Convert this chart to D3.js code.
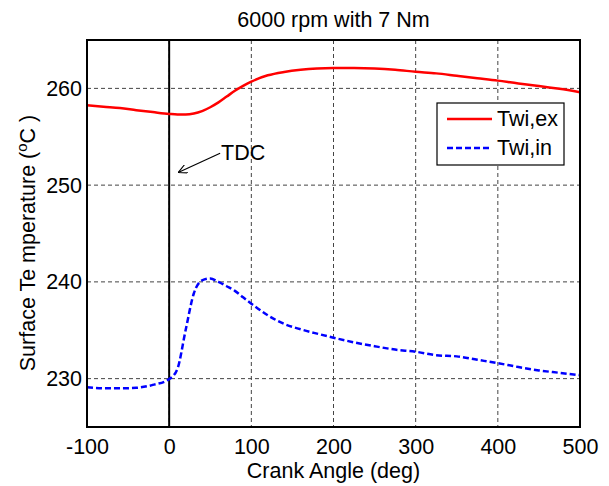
<!DOCTYPE html>
<html>
<head>
<meta charset="utf-8">
<script src="https://cdn.jsdelivr.net/npm/d3@7"></script>
<style>
	body { margin: 0; background: #fff; }
	text { font-family: "Liberation Sans", Arial, Helvetica, sans-serif; fill: #000; }
</style>
</head>
<body>
<div id="chart"></div>
<script>

// crank angle samples (deg)
var crankAngle = [-100, -80, -60, -40, -20, 0, 10, 20, 30, 40, 50, 60, 70, 80, 90, 100,
	120, 140, 160, 180, 200, 225, 250, 275, 300, 325, 350, 375, 400, 425, 450, 475, 500];

// surface temperature, exhaust side
var twiEx = [258.25, 258.1, 257.97, 257.75, 257.55, 257.36, 257.3, 257.3, 257.4, 257.65, 258.05, 258.55, 259.15, 259.75, 260.25, 260.7,
	261.35, 261.7, 261.92, 262.05, 262.1, 262.1, 262.05, 261.92, 261.72, 261.55, 261.3, 261.05, 260.8, 260.5, 260.25, 259.95, 259.6];

// surface temperature, intake side
var twiIn = [229.1, 229.0, 229.0, 229.05, 229.35, 229.95, 231.0, 235.0, 238.8, 240.15, 240.35, 240.0, 239.55, 239.07, 238.4, 237.75,
	236.55, 235.65, 235.1, 234.65, 234.23, 233.75, 233.35, 233.0, 232.78, 232.42, 232.3, 231.95, 231.6, 231.2, 230.85, 230.6, 230.35];

var xTicks = [-100, 0, 100, 200, 300, 400, 500];
var yTicks = [230, 240, 250, 260];
var seriesNames = ["Twi,ex", "Twi,in"];

var fontSize = "21.5px";

var margin = {top: 40, right: 29, bottom: 59, left: 87},
	width = 609 - margin.left - margin.right,
	height = 486 - margin.top - margin.bottom;

var x = d3.scaleLinear().domain([-100, 500]).range([0, width]);
var y = d3.scaleLinear().domain([225, 265]).range([height, 0]);

var svg = d3.select("#chart").append("svg")
	.attr("width", 609)
	.attr("height", 486);

var g = svg.append("g")
	.attr("transform", "translate(" + margin.left + "," + margin.top + ")");

// grid
g.selectAll(".gx").data(xTicks).enter().append("line")
	.attr("x1", function(d) { return x(d); })
	.attr("x2", function(d) { return x(d); })
	.attr("y1", 0).attr("y2", height)
	.attr("stroke", "#444").attr("stroke-width", 1)
	.attr("stroke-dasharray", "4,3");

g.selectAll(".gy").data(yTicks).enter().append("line")
	.attr("x1", 0).attr("x2", width)
	.attr("y1", function(d) { return y(d); })
	.attr("y2", function(d) { return y(d); })
	.attr("stroke", "#444").attr("stroke-width", 1)
	.attr("stroke-dasharray", "4,3");

// TDC line
g.append("line")
	.attr("x1", x(0)).attr("x2", x(0))
	.attr("y1", 0).attr("y2", height)
	.attr("stroke", "#000").attr("stroke-width", 2);

var data = crankAngle.map(function(a, i) { return [a, twiEx[i], twiIn[i]]; });

var lineEx = d3.line()
	.curve(d3.curveMonotoneX)
	.x(function(d) { return x(d[0]); })
	.y(function(d) { return y(d[1]); });

var lineIn = d3.line()
	.curve(d3.curveMonotoneX)
	.x(function(d) { return x(d[0]); })
	.y(function(d) { return y(d[2]); });

g.append("path")
	.datum(data)
	.attr("fill", "none")
	.attr("stroke", "#ff0000")
	.attr("stroke-width", 2.5)
	.attr("d", lineEx);

g.append("path")
	.datum(data)
	.attr("fill", "none")
	.attr("stroke", "#0000ff")
	.attr("stroke-width", 2.5)
	.attr("stroke-dasharray", "6,3")
	.attr("d", lineIn);

// axes
var xAxis = d3.axisBottom(x).tickValues(xTicks).tickSize(0).tickPadding(12).tickFormat(String);
var yAxis = d3.axisLeft(y).tickValues(yTicks).tickSize(0).tickPadding(5).tickFormat(String);

g.append("g")
	.attr("transform", "translate(0," + height + ")")
	.call(xAxis)
	.call(function(s) { s.select(".domain").remove(); })
	.selectAll("text")
	.style("font-size", fontSize)
	.attr("fill", "#000");

g.append("g")
	.call(yAxis)
	.call(function(s) { s.select(".domain").remove(); })
	.selectAll("text")
	.style("font-size", fontSize)
	.attr("fill", "#000");

// frame
g.append("rect")
	.attr("width", width).attr("height", height)
	.attr("fill", "none")
	.attr("stroke", "#000").attr("stroke-width", 2);

// labels
svg.append("text")
	.attr("x", margin.left + width / 2).attr("y", 27)
	.attr("text-anchor", "middle")
	.style("font-size", fontSize)
	.text("6000 rpm with 7 Nm");

svg.append("text")
	.attr("x", margin.left + width / 2).attr("y", 478)
	.attr("text-anchor", "middle")
	.style("font-size", fontSize)
	.text("Crank Angle (deg)");

var yl = svg.append("text")
	.attr("transform", "translate(35,243) rotate(-90)")
	.attr("text-anchor", "middle")
	.style("font-size", fontSize);
yl.append("tspan").text("Surface Te mperature (");
yl.append("tspan").attr("dy", -8).style("font-size", "15px").text("o");
yl.append("tspan").attr("dy", 8).text("C )");

// TDC annotation
svg.append("defs").append("marker")
	.attr("id", "arr")
	.attr("viewBox", "0 0 10 10")
	.attr("refX", 10).attr("refY", 5)
	.attr("markerWidth", 9).attr("markerHeight", 9)
	.attr("markerUnits", "userSpaceOnUse")
	.attr("orient", "auto")
	.append("path")
	.attr("d", "M0,0 L10,5 L0,10")
	.attr("fill", "none")
	.attr("stroke", "#000")
	.attr("stroke-width", 1.2);

g.append("line")
	.attr("x1", x(62)).attr("y1", y(253.3))
	.attr("x2", x(11)).attr("y2", y(251.3))
	.attr("stroke", "#000").attr("stroke-width", 1.2)
	.attr("marker-end", "url(#arr)");

g.append("text")
	.attr("x", x(62) + 1).attr("y", y(253.3) + 7)
	.style("font-size", fontSize)
	.text("TDC");

// legend
var legend = svg.append("g").attr("transform", "translate(437,103)");
legend.append("rect")
	.attr("width", 127).attr("height", 62)
	.attr("fill", "#fff").attr("stroke", "#000").attr("stroke-width", 1.2);

legend.selectAll(".li").data(seriesNames).enter().append("line")
	.attr("x1", 10).attr("x2", 55)
	.attr("y1", function(d, i) { return 16 + i * 29; })
	.attr("y2", function(d, i) { return 16 + i * 29; })
	.attr("stroke", function(d, i) { return i === 0 ? "#ff0000" : "#0000ff"; })
	.attr("stroke-width", 2.5)
	.attr("stroke-dasharray", function(d, i) { return i === 0 ? null : "6,3"; });

legend.selectAll(".lt").data(seriesNames).enter().append("text")
	.attr("x", 60)
	.attr("y", function(d, i) { return 23 + i * 29; })
	.style("font-size", fontSize)
	.text(function(d) { return d; });

</script>
</body>
</html>
